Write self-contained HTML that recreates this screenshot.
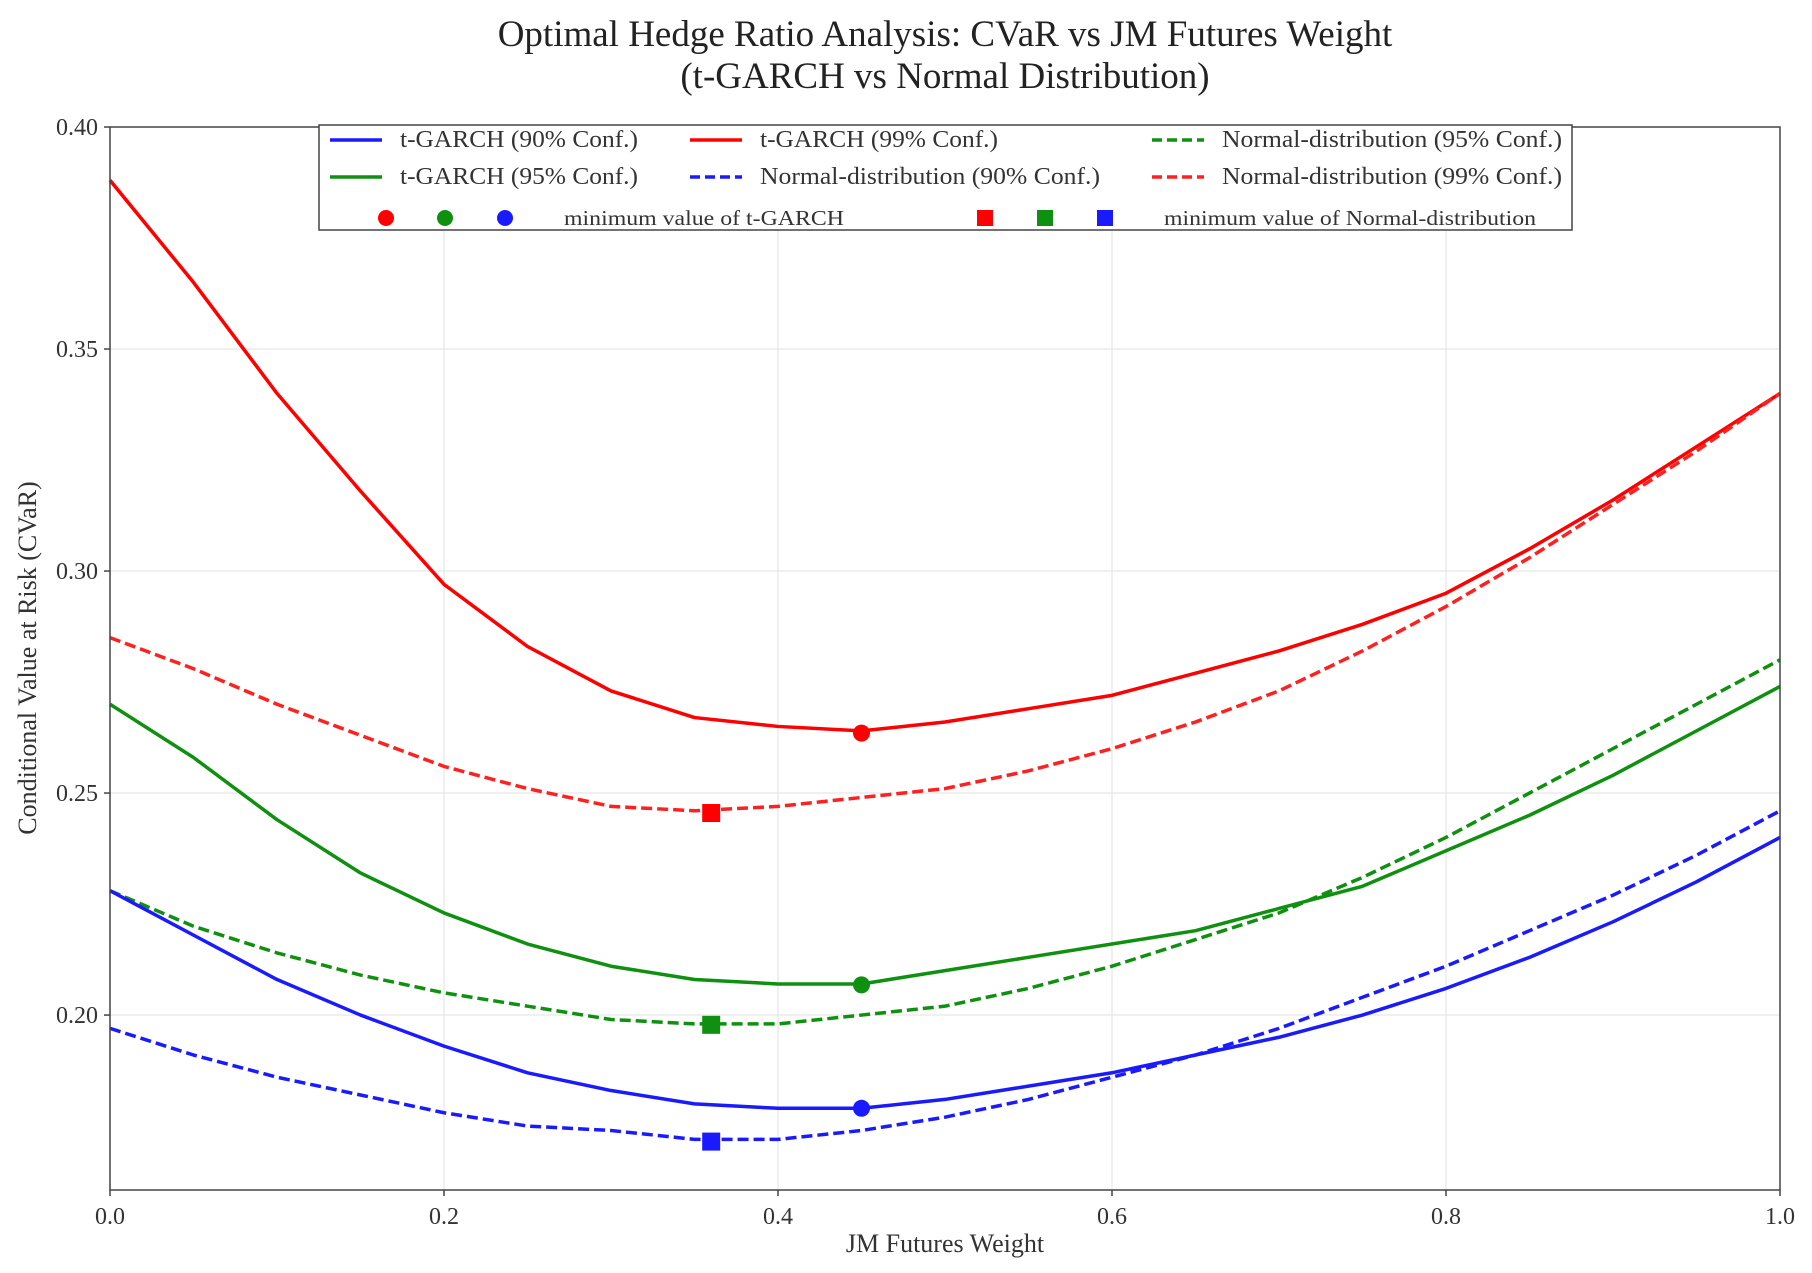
<!DOCTYPE html>
<html><head><meta charset="utf-8"><style>
body{margin:0;background:#fff;}
svg{display:block;font-family:"Liberation Serif",serif;}
</style></head><body>
<svg id="chart" width="1812" height="1273">
<text x="945" y="46" font-size="37" text-anchor="middle" fill="#222">Optimal Hedge Ratio Analysis: CVaR vs JM Futures Weight</text>
<text x="945" y="88" font-size="37" text-anchor="middle" fill="#222">(t-GARCH vs Normal Distribution)</text>
<g id="grid"></g><g id="series"></g><g id="axes"></g>
<text x="945" y="1252" font-size="26" text-anchor="middle" fill="#333">JM Futures Weight</text>
<text transform="translate(36,658) rotate(-90)" font-size="26" text-anchor="middle" fill="#333">Conditional Value at Risk (CVaR)</text>
<g id="legend">
<rect x="319" y="125" width="1253" height="105" fill="#fff" stroke="#444" stroke-width="1.5"/>
</g>
</svg>
<script>
const xs = [0,0.05,0.1,0.15,0.2,0.25,0.3,0.35,0.4,0.45,0.5,0.55,0.6,0.65,0.7,0.75,0.8,0.85,0.9,0.95,1.0];
const tg99 = [0.388,0.365,0.340,0.318,0.297,0.283,0.273,0.267,0.265,0.264,0.266,0.269,0.272,0.277,0.282,0.288,0.295,0.305,0.316,0.328,0.340];
const nd99 = [0.285,0.278,0.270,0.263,0.256,0.251,0.247,0.246,0.247,0.249,0.251,0.255,0.260,0.266,0.273,0.282,0.292,0.303,0.315,0.327,0.340];
const tg95 = [0.270,0.258,0.244,0.232,0.223,0.216,0.211,0.208,0.207,0.207,0.210,0.213,0.216,0.219,0.224,0.229,0.237,0.245,0.254,0.264,0.274];
const nd95 = [0.228,0.220,0.214,0.209,0.205,0.202,0.199,0.198,0.198,0.200,0.202,0.206,0.211,0.217,0.223,0.231,0.240,0.250,0.260,0.270,0.280];
const tg90 = [0.228,0.218,0.208,0.200,0.193,0.187,0.183,0.180,0.179,0.179,0.181,0.184,0.187,0.191,0.195,0.200,0.206,0.213,0.221,0.230,0.240];
const nd90 = [0.197,0.191,0.186,0.182,0.178,0.175,0.174,0.172,0.172,0.174,0.177,0.181,0.186,0.191,0.197,0.204,0.211,0.219,0.227,0.236,0.246];
const tgMinX = [0.45,0.45,0.45];
const tgMinY = [0.2635,0.2068,0.179];
const ndMinX = [0.36,0.36,0.36];
const ndMinY = [0.2455,0.1978,0.1715];
const xTicks = [0,0.2,0.4,0.6,0.8,1.0];
const xTickLabels = ["0.0","0.2","0.4","0.6","0.8","1.0"];
const yTicks = [0.20,0.25,0.30,0.35,0.40];
const yTickLabels = ["0.20","0.25","0.30","0.35","0.40"];

const NS="http://www.w3.org/2000/svg";
const X0=110,X1=1780,Y0=1190,Y1=127,ymin=0.1606,ymax=0.40;
function sx(v){return X0+(X1-X0)*v;}
function sy(v){return Y0-(Y0-Y1)*(v-ymin)/(ymax-ymin);}
function mk(t,a,p){const e=document.createElementNS(NS,t);for(const k in a)e.setAttribute(k,a[k]);(p||document.getElementById('chart')).appendChild(e);return e;}
const grid=document.getElementById('grid'),axes=document.getElementById('axes'),ser=document.getElementById('series'),leg=document.getElementById('legend');
xTicks.forEach((t,i)=>{
 const g=mk('line',{x1:sx(t),x2:sx(t),y1:Y1,y2:Y0,stroke:'#e2e2e2','stroke-width':1},grid);
 
 
 mk('line',{x1:sx(t),x2:sx(t),y1:Y0,y2:Y0+6,stroke:'#444','stroke-width':1.5},axes);
 const l=mk('text',{x:sx(t),y:Y0+34,'font-size':24,'text-anchor':'middle',fill:'#333'},axes);
 l.textContent=xTickLabels[i];
 
 
});
yTicks.forEach((t,i)=>{
 const g=mk('line',{x1:X0,x2:X1,y1:sy(t),y2:sy(t),stroke:'#e2e2e2','stroke-width':1},grid);
 
 
 mk('line',{x1:X0-6,x2:X0,y1:sy(t),y2:sy(t),stroke:'#444','stroke-width':1.5},axes);
 const l=mk('text',{x:X0-12,y:sy(t)+8,'font-size':24,'text-anchor':'end',fill:'#333'},axes);
 l.textContent=yTickLabels[i];
 
 
});
const fr=mk('rect',{x:X0,y:Y1,width:X1-X0,height:Y0-Y1,fill:'none',stroke:'#444','stroke-width':1.5},axes);


const series=[[tg99,'#ff0000',false,'tgarch-99-line'],[nd99,'#ff2020',true,'normal-99-line'],[tg95,'#109010',false,'tgarch-95-line'],[nd95,'#109010',true,'normal-95-line'],[tg90,'#1a1aff',false,'tgarch-90-line'],[nd90,'#1a1aff',true,'normal-90-line']];
series.forEach(s=>{
 const p=mk('polyline',{points:xs.map((x,i)=>sx(x)+','+sy(s[0][i])).join(' '),fill:'none',stroke:s[1],'stroke-width':3.5,'stroke-linejoin':'round'},ser);
 if(s[2])p.setAttribute('stroke-dasharray','11,5');
 
 
});
const mc=['#ff0000','#109010','#1a1aff'];
tgMinX.forEach((x,i)=>{
 const c=mk('circle',{cx:sx(x),cy:sy(tgMinY[i]),r:8.5,fill:mc[i]},ser);
 
 
});
ndMinX.forEach((x,i)=>{
 const r=mk('rect',{x:sx(x)-9,y:sy(ndMinY[i])-9,width:18,height:18,fill:mc[i]},ser);
 
 
});
const le=[[330,147,'#1a1aff',false,'t-GARCH (90% Conf.)'],[690,147,'#ff0000',false,'t-GARCH (99% Conf.)'],[1152,147,'#109010',true,'Normal-distribution (95% Conf.)'],
[330,184,'#109010',false,'t-GARCH (95% Conf.)'],[690,184,'#1a1aff',true,'Normal-distribution (90% Conf.)'],[1152,184,'#ff2020',true,'Normal-distribution (99% Conf.)']];
le.forEach(e=>{
 const l=mk('line',{x1:e[0],x2:e[0]+52,y1:e[1]-7,y2:e[1]-7,stroke:e[2],'stroke-width':3.5},leg);
 if(e[3])l.setAttribute('stroke-dasharray','10,5');
 const t=mk('text',{x:e[0]+70,y:e[1],'font-size':24,fill:'#333',textLength:e[4].length>22?340:238,lengthAdjust:'spacingAndGlyphs'},leg);
 t.textContent=e[4];
 
 
});
[386,445,505].forEach((x,i)=>mk('circle',{cx:x,cy:218,r:8,fill:mc[i]},leg));
[985,1045,1105].forEach((x,i)=>mk('rect',{x:x-8,y:210,width:16,height:16,fill:mc[i]},leg));
const t1=mk('text',{x:564,y:225,'font-size':21,fill:'#333',textLength:280,lengthAdjust:'spacingAndGlyphs'},leg);t1.textContent='minimum value of t-GARCH';


const t2=mk('text',{x:1164,y:225,'font-size':21,fill:'#333',textLength:372,lengthAdjust:'spacingAndGlyphs'},leg);t2.textContent='minimum value of Normal-distribution';


</script>
</body></html>
